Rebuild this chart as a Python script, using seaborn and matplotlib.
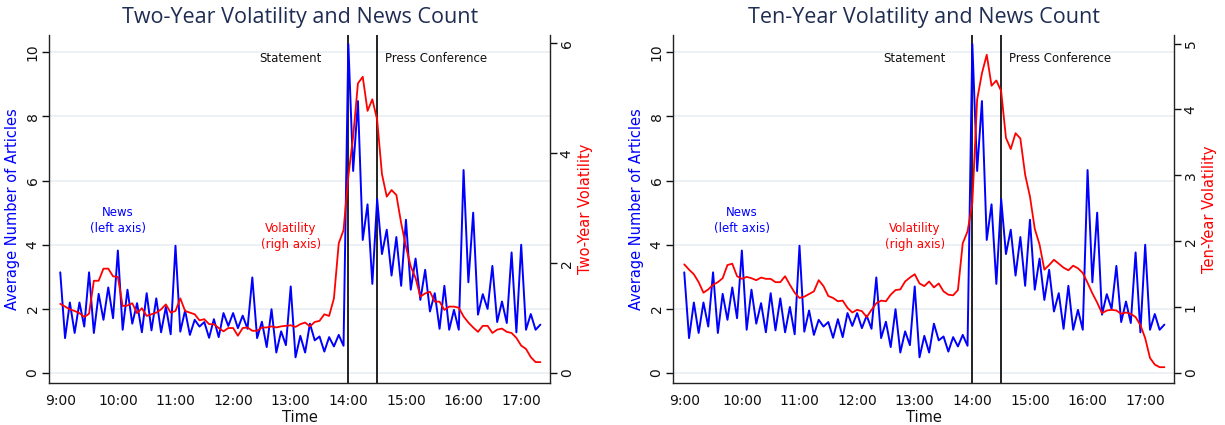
import numpy as np
import pandas as pd
import matplotlib
matplotlib.use("Agg")
import matplotlib.pyplot as plt
import seaborn as sns

# ---------------- data ----------------
hour_ticks = [9, 10, 11, 12, 13, 14, 15, 16, 17]
hour_tick_labels = ["9:00", "10:00", "11:00", "12:00", "13:00", "14:00", "15:00", "16:00", "17:00"]

# 5-minute observations from 9:00 to 17:20
time_labels = [f"{h}:{m:02d}" for h in range(9, 18) for m in range(0, 60, 5)][:101]

news = [3.14, 1.09, 2.20, 1.25, 2.20, 1.45, 3.14, 1.25, 2.47, 1.66, 2.67, 1.71,
        3.82, 1.35, 2.60, 1.54, 2.18, 1.27, 2.49, 1.33, 2.33, 1.27, 2.06, 1.21,
        3.97, 1.29, 1.95, 1.19, 1.66, 1.45, 1.59, 1.10, 1.68, 1.12, 1.87, 1.47,
        1.87, 1.40, 1.79, 1.38, 2.98, 1.09, 1.60, 0.81, 1.99, 0.64, 1.30, 0.87,
        2.70, 0.49, 1.16, 0.64, 1.54, 1.02, 1.14, 0.67, 1.12, 0.83, 1.19, 0.85,
        10.26, 6.30, 8.48, 4.15, 5.26, 2.78, 5.43, 3.71, 4.47, 3.04, 4.24, 2.72,
        4.78, 2.60, 3.57, 2.28, 3.22, 1.92, 2.49, 1.38, 2.72, 1.35, 1.97, 1.35,
        6.33, 2.83, 5.00, 1.82, 2.46, 2.00, 3.34, 1.59, 2.23, 1.56, 3.76, 1.27,
        4.00, 1.35, 1.84, 1.35, 1.51]

vol_two_year = [1.26, 1.21, 1.16, 1.13, 1.09, 1.02, 1.08, 1.68, 1.68, 1.90, 1.90, 1.76,
                1.75, 1.22, 1.23, 1.27, 1.09, 1.18, 1.04, 1.07, 1.10, 1.16, 1.25, 1.10,
                1.13, 1.36, 1.13, 1.10, 1.07, 0.96, 0.98, 0.89, 0.89, 0.82, 0.76, 0.82,
                0.82, 0.68, 0.82, 0.83, 0.77, 0.77, 0.83, 0.83, 0.85, 0.83, 0.85, 0.86,
                0.87, 0.84, 0.89, 0.92, 0.85, 0.93, 0.95, 1.07, 1.04, 1.36, 2.36, 2.60,
                3.58, 4.30, 5.27, 5.39, 4.77, 4.98, 4.61, 3.62, 3.21, 3.33, 3.24, 2.73,
                2.30, 1.94, 1.73, 1.39, 1.45, 1.48, 1.30, 1.30, 1.15, 1.21, 1.21, 1.19,
                1.03, 0.92, 0.83, 0.75, 0.86, 0.86, 0.73, 0.79, 0.81, 0.75, 0.73, 0.64,
                0.50, 0.44, 0.29, 0.20, 0.20]

vol_ten_year = [1.65, 1.57, 1.50, 1.38, 1.22, 1.27, 1.34, 1.38, 1.44, 1.64, 1.66, 1.47,
                1.43, 1.46, 1.44, 1.41, 1.45, 1.43, 1.43, 1.38, 1.38, 1.47, 1.34, 1.22,
                1.14, 1.16, 1.20, 1.24, 1.41, 1.32, 1.17, 1.14, 1.09, 1.10, 0.99, 0.92,
                0.96, 0.94, 0.85, 0.96, 1.06, 1.10, 1.09, 1.19, 1.26, 1.27, 1.39, 1.45,
                1.50, 1.36, 1.32, 1.39, 1.30, 1.36, 1.24, 1.19, 1.18, 1.26, 1.97, 2.15,
                2.58, 4.15, 4.55, 4.83, 4.36, 4.44, 4.28, 3.57, 3.40, 3.64, 3.56, 3.01,
                2.68, 2.19, 1.95, 1.57, 1.64, 1.72, 1.66, 1.60, 1.56, 1.63, 1.59, 1.52,
                1.37, 1.21, 1.07, 0.91, 0.95, 0.96, 0.95, 0.90, 0.92, 0.90, 0.85, 0.73,
                0.53, 0.23, 0.13, 0.09, 0.09]

event_hours = [14.0, 14.5]
event_labels = ["Statement", "Press Conference"]

panels = [
    ("Two-Year Volatility and News Count", "Two-Year Volatility", "vol_two_year", [0, 2, 4, 6], (-0.18, 6.15)),
    ("Ten-Year Volatility and News Count", "Ten-Year Volatility", "vol_ten_year", [0, 1, 2, 3, 4, 5], (-0.15, 5.13)),
]

# ---------------- frame ----------------
def to_hour(s):
    h, m = s.split(":")
    return int(h) + int(m) / 60.0

df = pd.DataFrame({
    "time": time_labels,
    "hour": [to_hour(t) for t in time_labels],
    "news": news,
    "vol_two_year": vol_two_year,
    "vol_ten_year": vol_ten_year,
})

sns.set_theme(style="white")
plt.rcParams["font.family"] = ["DejaVu Sans"]

BLUE = "#0000ff"
RED = "#ff0000"
GRID = "#e9eff4"
TITLE = "#1f2d52"

fig = plt.figure(figsize=(12.25, 4.25), dpi=100)
W, H = 1225, 425
axes_px = [(49.3, 550.0), (673.3, 1174.0)]
top_px, bot_px = 35.0, 383.0

for (title, rlabel, col, rticks, rlim), (x0, x1) in zip(panels, axes_px):
    ax = fig.add_axes([x0 / W, 1 - bot_px / H, (x1 - x0) / W, (bot_px - top_px) / H])
    ax2 = ax.twinx()

    ax.set_axisbelow(True)
    for yv in [0, 2, 4, 6, 8, 10]:
        ax.axhline(yv, color=GRID, lw=1.2, zorder=0)

    for xv in event_hours:
        ax.axvline(xv, color="#111111", lw=1.3, zorder=1)

    sns.lineplot(data=df, x="hour", y="news", ax=ax, color=BLUE, lw=1.4, zorder=3)
    sns.lineplot(data=df, x="hour", y=col, ax=ax2, color=RED, lw=1.3)

    ax.set_xlim(8.81, 17.5)
    ax.set_ylim(-0.31, 10.54)
    ax2.set_ylim(*rlim)

    ax.set_xticks(hour_ticks)
    ax.set_xticklabels(hour_tick_labels)
    ax.set_yticks([0, 2, 4, 6, 8, 10])
    ax2.set_yticks(rticks)

    ax.tick_params(axis="x", direction="out", length=5, width=1, labelsize=10, colors="#111111", pad=3)
    ax.tick_params(axis="y", direction="out", length=5, width=1, labelsize=10, colors="#111111",
                   labelrotation=90, pad=2)
    ax2.tick_params(axis="y", direction="out", length=5, width=1, labelsize=10, colors="#111111",
                    labelrotation=90, pad=2)
    for lab in ax.get_yticklabels() + ax2.get_yticklabels():
        lab.set_va("center")

    ax.set_xlabel("Time", fontsize=10.5, color="#111111", labelpad=1)
    ax.set_ylabel("Average Number of Articles", fontsize=10.5, color=BLUE, labelpad=4)
    ax2.set_ylabel(rlabel, fontsize=10.5, color=RED, labelpad=3)

    for a in (ax, ax2):
        a.spines["top"].set_visible(False)
        for s in ("left", "right", "bottom"):
            a.spines[s].set_color("#222222")
            a.spines[s].set_linewidth(1.0)
    ax.spines["right"].set_visible(False)
    ax2.spines["left"].set_visible(False)
    ax2.spines["bottom"].set_visible(False)

    ax.text(13.0, 9.8, event_labels[0], ha="center", va="center", fontsize=8.5, color="#111111")
    ax.text(14.63, 9.8, event_labels[1], ha="left", va="center", fontsize=8.5, color="#111111")
    ax.text(10.0, 4.75, "News\n(left axis)", ha="center", va="center", fontsize=8.5,
            color=BLUE, linespacing=1.3)
    ax.text(13.0, 4.25, "Volatility\n(righ axis)", ha="center", va="center", fontsize=8.5,
            color=RED, linespacing=1.3)

    fig.text((x0 + x1) / 2 / W, 1 - 18 / H, title, ha="center", va="center",
             fontsize=15.5, color=TITLE, family=["Open Sans", "DejaVu Sans"])

fig.savefig("out.png", dpi=100)
